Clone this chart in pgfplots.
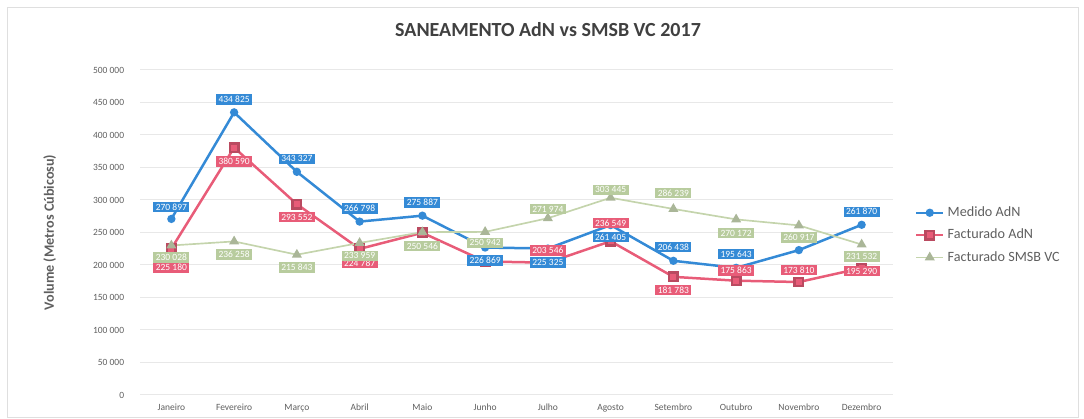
\documentclass[border=0pt]{standalone}
\usepackage{fontspec}
\setmainfont{Carlito}
\usepackage{pgfplots}
\pgfplotsset{compat=1.18}
\usepackage{pgfplotstable}

\definecolor{azul}{RGB}{52,138,214}
\definecolor{rosa}{RGB}{232,92,120}
\definecolor{verde}{RGB}{196,212,172}
\definecolor{verdelab}{RGB}{184,204,158}
\definecolor{verdemark}{RGB}{170,182,152}
\definecolor{cinza}{RGB}{95,95,95}

% x, valor, deslocamento da etiqueta (px), etiqueta visivel
\pgfplotstableread{
x y dy show
0 270897 12 1
1 434825 13 1
2 343327 13 1
3 266798 13 1
4 275887 13 1
5 226869 -13 1
6 225325 -14 1
7 261405 -12 1
8 206438 14 1
9 195643 14 1
10 222900 12 0
11 261870 13 1
}\medido

\pgfplotstableread{
x y dy show
0 225180 -19 1
1 380590 -14 1
2 293552 -13 1
3 224787 -14 1
4 249600 0 0
5 205400 0 0
6 203546 12 1
7 236549 18 1
8 181783 -13 1
9 175863 10 1
10 173810 12 1
11 195290 -3 1
}\facturado

\pgfplotstableread{
x y dy show
0 230028 -12 1
1 236258 -13 1
2 215843 -13 1
3 233959 -13 1
4 250546 -14 1
5 250942 -11 1
6 271974 9 1
7 303445 8 1
8 286239 16 1
9 270172 -14 1
10 260917 -12 1
11 231532 -12 1
}\smsb

\begin{document}
\begin{tikzpicture}
\begin{axis}[
  name=ax, at={(0,0)}, anchor=south west,
  scale only axis, width=451.8pt, height=195pt,
  xmin=-0.5, xmax=11.5, ymin=0, ymax=500000,
  xtick={0,...,11},
  xticklabels={Janeiro,Fevereiro,Março,Abril,Maio,Junho,Julho,Agosto,Setembro,Outubro,Novembro,Dezembro},
  ytick={0,50000,...,500000},
  scaled y ticks=false,
  /pgf/number format/.cd, fixed, precision=0, 1000 sep={\ }, assume math mode=true,
  /pgfplots/.cd,
  major tick length=0pt,
  axis line style={draw=none},
  ymajorgrids, grid style={gray!18, line width=0.6pt},
  ticklabel style={font=\fontsize{5.7}{6}\selectfont, text=cinza},
  yticklabel style={xshift=-6pt},
  xticklabel style={yshift=-2pt},
  ylabel={\bfseries Volume (Metros Cúbicosu)},
  ylabel style={font=\fontsize{8.5}{10}\selectfont, text=cinza, at={(axis description cs:-0.12,0.5)}, anchor=center},
  legend style={at={(axis description cs:1.029,0.492)}, anchor=west, draw=none, fill=none,
    font=\fontsize{8.5}{10}\selectfont, text=cinza, row sep=2pt, inner sep=0pt},
  legend cell align=left,
  legend image code/.code={\draw[mark repeat=2,mark phase=2] plot coordinates {(0pt,0pt) (8pt,0pt) (16pt,0pt)};},
  clip=false,
]
\addplot[azul, line width=1.5pt, mark=*, mark size=1.7pt, mark options={fill=azul}]
  table[x=x, y=y] {\medido};
\addlegendentry{Medido AdN}
\addplot[rosa, line width=1.5pt, mark=square*, mark size=2.5pt, mark options={fill=rosa, draw=rosa!80!black}]
  table[x=x, y=y] {\facturado};
\addlegendentry{Facturado AdN}
\addplot[verde, line width=1pt, mark=triangle*, mark size=2.5pt, mark options={fill=verdemark, draw=verdemark}]
  table[x=x, y=y] {\smsb};
\addlegendentry{Facturado SMSB VC}

% etiquetas de dados
\pgfplotsset{etiq/.style={draw=none, mark=none, forget plot, point meta=y,
  visualization depends on={\thisrow{dy}\as\dy},
  visualization depends on={\thisrow{show}\as\show},
  nodes near coords, nodes near coords align={center},
  every node near coord/.append style={anchor=center, yshift={0.6pt*\dy}, opacity=\show,
    font=\fontsize{5.7}{6}\selectfont, text=white, fill=#1, inner xsep=1.5pt, inner ysep=1.2pt}}}
\addplot[etiq=azul] table[x=x, y=y] {\medido};
\addplot[etiq=rosa] table[x=x, y=y] {\facturado};
\addplot[etiq=verdelab] table[x=x, y=y] {\smsb};
\end{axis}
\draw[gray!25, line width=0.6pt] (-79.2pt,-13.8pt) rectangle (562.8pt,232.2pt);
\node[font=\bfseries\fontsize{12}{14}\selectfont, text=black!75] at (244.8pt,219pt) {SANEAMENTO AdN vs SMSB VC 2017};
\pgfresetboundingbox
\path[use as bounding box] (-84pt,-14.4pt) rectangle (566.4pt,237pt);
\end{tikzpicture}
\end{document}
